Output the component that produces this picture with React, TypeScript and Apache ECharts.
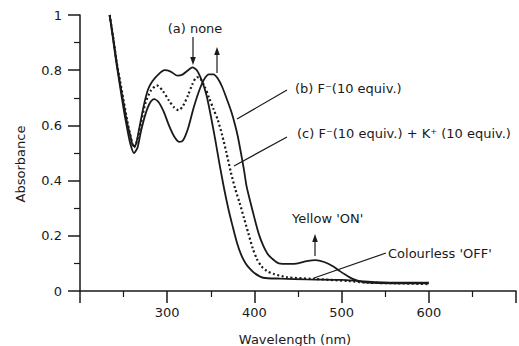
import React, { useEffect, useRef } from 'react';
import * as echarts from 'echarts';

// (a) none
const wlA = [234,238,242,246,250,254,258,261,264,268,273,278,283,290,297,304,312,318,324,329,334,340,345,350,355,360,365,370,375,380,385,390,395,400,410,430,460,500,520,540,570,600];
const absA = [1.00,0.92,0.83,0.75,0.68,0.61,0.56,0.525,0.53,0.59,0.67,0.73,0.76,0.785,0.80,0.795,0.78,0.785,0.80,0.81,0.80,0.76,0.71,0.635,0.55,0.46,0.375,0.30,0.235,0.175,0.13,0.10,0.08,0.065,0.048,0.045,0.042,0.04,0.036,0.032,0.03,0.03];

// (b) F- (10 equiv.)
const wlB = [234,238,242,246,250,254,258,262,266,270,275,280,285,290,296,302,308,314,318,324,330,336,342,348,353,358,363,369,374,378,381,384,388,391,395,400,405,410,415,420,428,440,450,460,470,480,490,498,505,512,520,530,560,600];
const absB = [1.00,0.91,0.82,0.74,0.66,0.59,0.53,0.50,0.52,0.58,0.64,0.68,0.695,0.685,0.65,0.60,0.56,0.54,0.545,0.59,0.66,0.72,0.765,0.785,0.785,0.77,0.74,0.69,0.645,0.60,0.56,0.51,0.44,0.38,0.327,0.265,0.207,0.165,0.135,0.118,0.10,0.098,0.10,0.108,0.112,0.105,0.09,0.072,0.058,0.045,0.036,0.03,0.028,0.028];

// (c) F- (10 equiv.) + K+ (10 equiv.)
const wlC = [234,238,242,246,250,254,258,262,266,270,275,281,288,295,302,308,313,318,324,329,334,338,343,348,353,358,363,368,373,378,383,388,393,398,403,408,414,422,437,467,508,530,560,600];
const absC = [1.00,0.92,0.83,0.76,0.69,0.62,0.56,0.52,0.55,0.61,0.68,0.725,0.745,0.725,0.69,0.665,0.655,0.67,0.71,0.75,0.775,0.77,0.74,0.70,0.66,0.62,0.565,0.50,0.43,0.37,0.32,0.265,0.21,0.155,0.115,0.09,0.073,0.062,0.05,0.044,0.036,0.03,0.028,0.025];

const xTickLabels = ['300', '400', '500', '600'];
const labelA = '(a) none';
const labelB = '(b) F\u207B(10 equiv.)';
const labelC = '(c) F\u207B(10 equiv.) + K\u207A (10 equiv.)';
const labelOn = "Yellow 'ON'";
const labelOff = "Colourless 'OFF'";

const INK = '#1a1a1a';
const FONT = 'DejaVu Sans';

function pairs(xs: number[], ys: number[]) {
  return xs.map((x, i) => [x, ys[i]]);
}

function txt(text: string, x: number, y: number, align = 'left', rotation = 0) {
  return {
    type: 'text',
    x,
    y,
    rotation,
    style: { text, fill: INK, font: `13px "${FONT}"`, align, verticalAlign: 'middle' },
  };
}
function seg(x1: number, y1: number, x2: number, y2: number) {
  return { type: 'line', shape: { x1, y1, x2, y2 }, style: { stroke: INK, lineWidth: 1.2 } };
}
function head(x: number, y: number, dir: number) {
  // dir: 1 = pointing down, -1 = pointing up
  return {
    type: 'polygon',
    shape: { points: [[x, y], [x - 2.8, y - dir * 8], [x + 2.8, y - dir * 8]] },
    style: { fill: INK },
  };
}

export default function App() {
  const ref = useRef<HTMLDivElement>(null);
  useEffect(() => {
    document.body.style.margin = '0';
    const chart = echarts.init(ref.current!, null, { renderer: 'svg' });
    const lineCommon = { type: 'line', symbol: 'none', smooth: 0.25, silent: true };
    chart.setOption({
      animation: false,
      backgroundColor: '#ffffff',
      grid: { left: 80, right: 1, top: 15, bottom: 55 },
      xAxis: {
        type: 'value',
        min: 200,
        max: 700,
        interval: 100,
        axisLine: { lineStyle: { color: INK, width: 1.5 } },
        axisTick: { show: true, length: 12, lineStyle: { color: INK, width: 1.5 } },
        minorTick: { show: true, splitNumber: 2, length: 6, lineStyle: { color: INK, width: 1.2 } },
        splitLine: { show: false },
        axisLabel: {
          margin: 15,
          color: INK,
          fontSize: 13,
          fontFamily: FONT,
          formatter: (v: number) => (xTickLabels.includes(String(v)) ? String(v) : ''),
        },
      },
      yAxis: {
        type: 'value',
        min: 0,
        max: 1,
        interval: 0.2,
        axisLine: { show: true, lineStyle: { color: INK, width: 1.5 } },
        axisTick: { show: true, length: 12, lineStyle: { color: INK, width: 1.5 } },
        minorTick: { show: true, splitNumber: 2, length: 6, lineStyle: { color: INK, width: 1.2 } },
        splitLine: { show: false },
        axisLabel: {
          margin: 18,
          color: INK,
          fontSize: 13,
          fontFamily: FONT,
          formatter: (v: number) => (v === 0 || v === 1 ? String(v) : v.toFixed(1)),
        },
      },
      series: [
        { ...lineCommon, name: labelA, data: pairs(wlA, absA), lineStyle: { color: INK, width: 1.8 } },
        { ...lineCommon, name: labelB, data: pairs(wlB, absB), lineStyle: { color: INK, width: 1.8 } },
        { ...lineCommon, name: labelC, data: pairs(wlC, absC), lineStyle: { color: INK, width: 2.2, type: [2, 2.5] } },
      ],
      graphic: [
        txt('Absorbance', 20, 164, 'center', Math.PI / 2),
        txt('Wavelength (nm)', 295, 339, 'center'),
        txt(labelA, 195, 28, 'center'),
        seg(193, 37, 193, 60),
        head(193, 65, 1),
        seg(217, 73, 217, 52),
        head(217, 47, -1),
        txt(labelB, 295, 88),
        seg(287, 90, 237, 119),
        txt(labelC, 297, 133),
        seg(287, 137, 234, 166),
        txt(labelOn, 292, 218),
        seg(315, 256, 315, 239),
        head(315, 234, -1),
        txt(labelOff, 388, 253),
        seg(386, 253, 314, 278),
      ],
    });
    return () => chart.dispose();
  }, []);
  return <div ref={ref} style={{ width: 519, height: 346 }} />;
}
